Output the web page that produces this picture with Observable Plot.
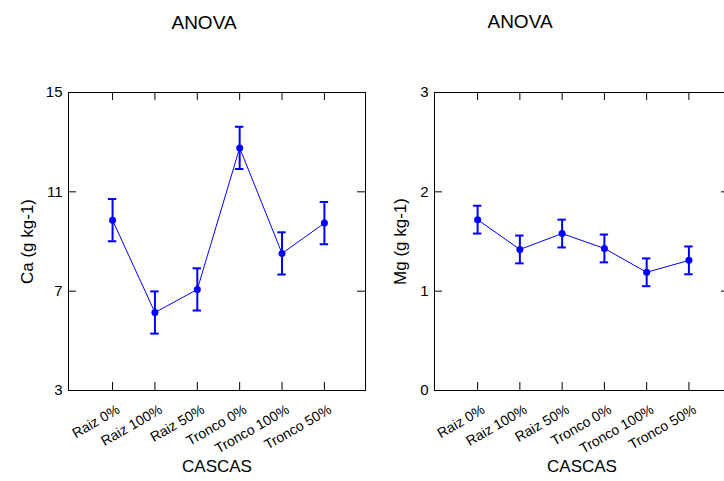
<!DOCTYPE html>
<html>
<head>
<meta charset="utf-8">
<script src="https://cdn.jsdelivr.net/npm/d3@7"></script>
<script src="https://cdn.jsdelivr.net/npm/@observablehq/plot@0.6"></script>
<style>
  html, body { margin: 0; padding: 0; background: #fff; overflow: hidden; width: 724px; height: 481px; }
  #wrap { position: relative; width: 724px; height: 481px; overflow: hidden; }
  .panel { position: absolute; top: 0; }
</style>
</head>
<body>
<div id="wrap"></div>
<script>
// Bark treatments (CASCAS)
const cascas = ["Raiz 0%", "Raiz 100%", "Raiz 50%", "Tronco 0%", "Tronco 100%", "Tronco 50%"];

// Calcium means and error half-widths (g kg-1)
const caMean = [9.86, 6.14, 7.07, 12.77, 8.52, 9.74];
const caErr  = [0.85, 0.85, 0.85, 0.85, 0.85, 0.85];
const caTicks = [3, 7, 11, 15];

// Magnesium means and error half-widths (g kg-1)
const mgMean = [1.72, 1.42, 1.58, 1.43, 1.19, 1.31];
const mgErr  = [0.14, 0.14, 0.14, 0.14, 0.14, 0.14];
const mgTicks = [0, 1, 2, 3];

const FONT = "'Liberation Sans', Arial, Helvetica, sans-serif";
const BLUE = "#0000ff";

function panel({mean, err, yDomain, yTicks, yLabel, xDomain, width, marginLeft, marginRight,
                labelDx, tickPad, titleDx, titleDy}) {
  const H = 481, mt = 92, mb = 91;
  const innerW = width - marginLeft - marginRight;
  const innerH = H - mt - mb;
  const T = 8;        // inward tick length (px)
  const CAP = 0.1;    // half-width of error-bar caps (x units)
  const pos = cascas.map((_, i) => i + 1);
  const rows = cascas.map((c, i) => ({pos: i + 1, c, v: mean[i], lo: mean[i] - err[i], hi: mean[i] + err[i]}));
  return Plot.plot({
    width, height: H, marginLeft, marginRight, marginTop: mt, marginBottom: mb,
    style: {fontFamily: FONT, color: "#000", background: "transparent", overflow: "visible"},
    x: {type: "linear", domain: xDomain, axis: null},
    y: {domain: yDomain, axis: null},
    marks: [
      Plot.frame({stroke: "#000"}),
      // inward ticks on all four sides
      Plot.tickY(yTicks, {insetRight: innerW - T, stroke: "#000"}),
      Plot.tickY(yTicks, {insetLeft: innerW - T, stroke: "#000"}),
      Plot.tickX(pos, {insetTop: innerH - T, stroke: "#000"}),
      Plot.tickX(pos, {insetBottom: innerH - T, stroke: "#000"}),
      Plot.axisY({ticks: yTicks, tickFormat: d => String(d), tickSize: 0, tickPadding: tickPad,
                  fontSize: 15, label: null}),
      // slanted category labels
      Plot.text(rows, {x: "pos", text: "c", frameAnchor: "bottom", rotate: -30, textAnchor: "end",
                       lineAnchor: "middle", dx: 6, dy: 18, fontSize: 14}),
      Plot.text([yLabel], {frameAnchor: "left", rotate: -90, dx: -labelDx, fontSize: 17,
                           textAnchor: "middle", lineAnchor: "middle"}),
      Plot.text(["CASCAS"], {frameAnchor: "bottom", dy: 81, lineAnchor: "bottom", fontSize: 17}),
      Plot.text(["ANOVA"], {frameAnchor: "top", dx: titleDx, dy: titleDy, lineAnchor: "bottom", fontSize: 19}),
      // means with error bars
      Plot.line(rows, {x: "pos", y: "v", stroke: BLUE, strokeWidth: 1}),
      Plot.ruleX(rows, {x: "pos", y1: "lo", y2: "hi", stroke: BLUE, strokeWidth: 2}),
      Plot.ruleY(rows, {y: "lo", x1: d => d.pos - CAP, x2: d => d.pos + CAP, stroke: BLUE, strokeWidth: 2}),
      Plot.ruleY(rows, {y: "hi", x1: d => d.pos - CAP, x2: d => d.pos + CAP, stroke: BLUE, strokeWidth: 2}),
      Plot.dot(rows, {x: "pos", y: "v", r: 3.5, fill: BLUE, stroke: "none"})
    ]
  });
}

const wrap = document.getElementById("wrap");

const ca = panel({
  mean: caMean, err: caErr, yDomain: [3, 15], yTicks: caTicks, yLabel: "Ca (g kg-1)",
  xDomain: [-0.04, 6.97], width: 370, marginLeft: 68, marginRight: 5,
  labelDx: 41, tickPad: 6, titleDx: -13, titleDy: -64
});
ca.classList.add("panel");
ca.style.left = "0px";
wrap.appendChild(ca);

const mg = panel({
  mean: mgMean, err: mgErr, yDomain: [0, 3], yTicks: mgTicks, yLabel: "Mg (g kg-1)",
  xDomain: [-0.02, 6.96], width: 370, marginLeft: 64, marginRight: 11,
  labelDx: 34, tickPad: 6, titleDx: -62, titleDy: -65
});
mg.classList.add("panel");
mg.style.left = "370px";
wrap.appendChild(mg);
</script>
</body>
</html>
